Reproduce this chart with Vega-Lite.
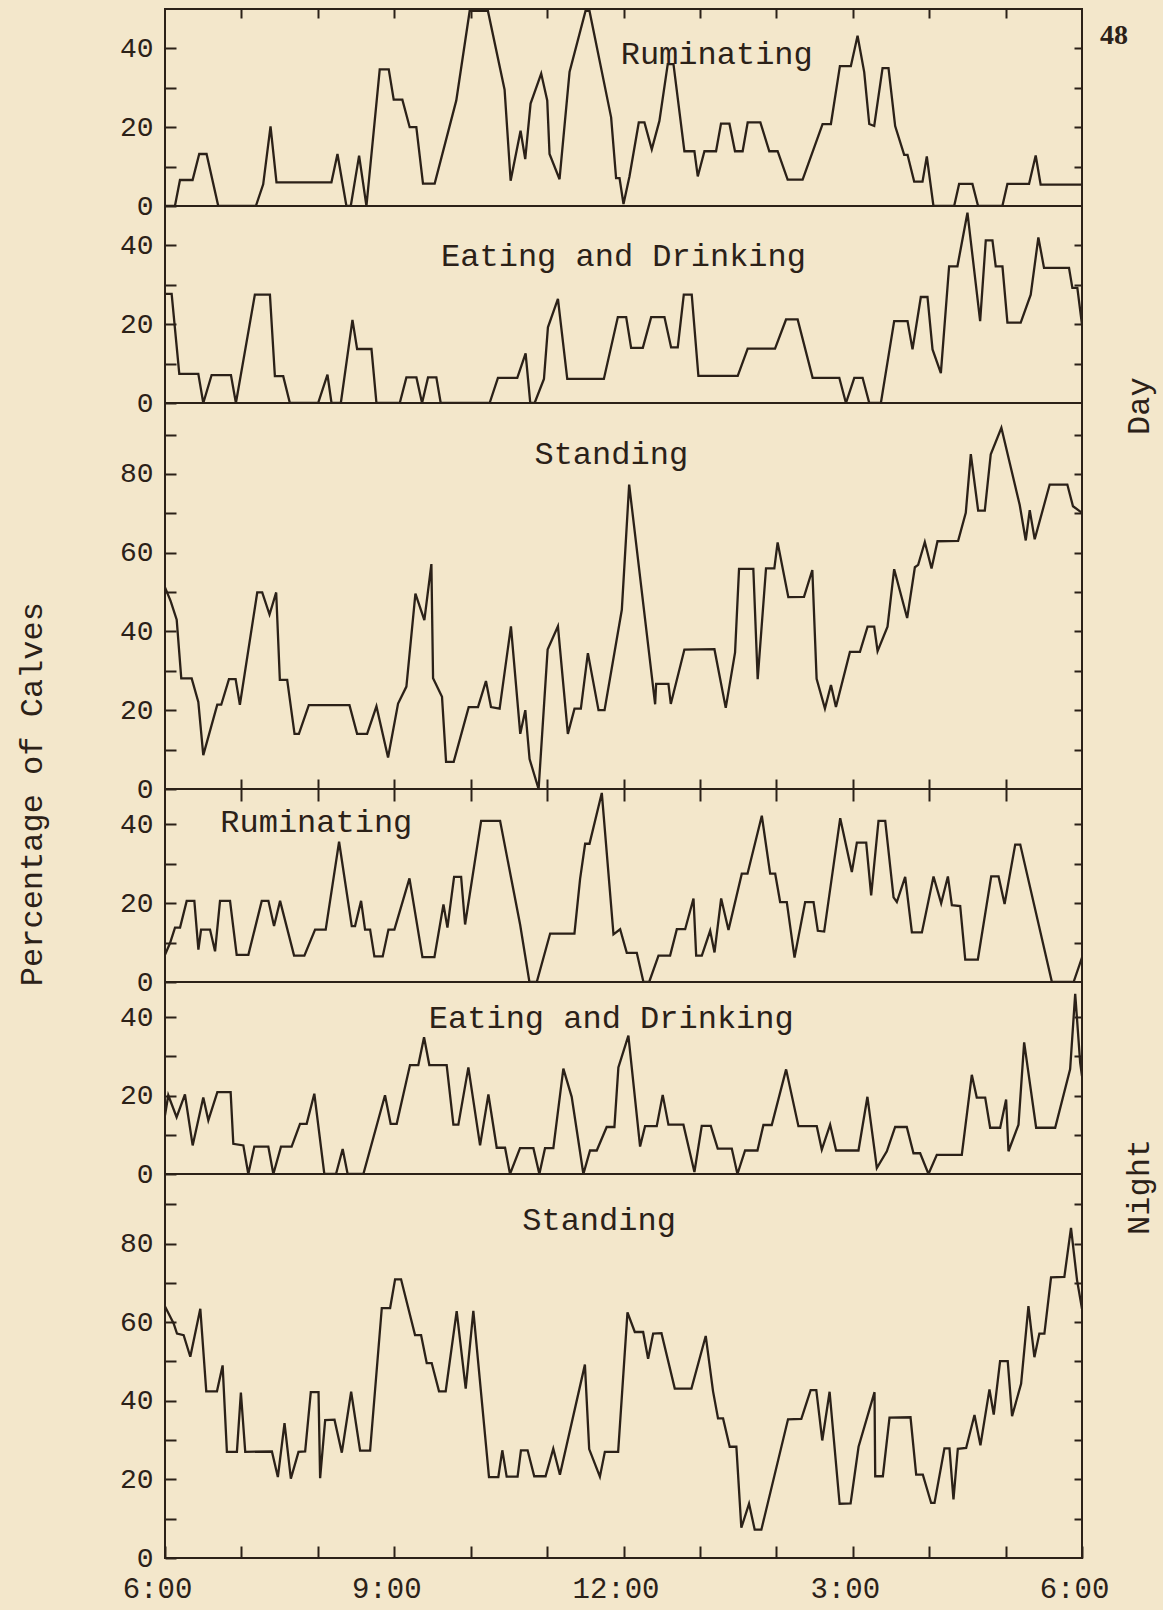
{
  "$schema": "https://vega.github.io/schema/vega-lite/v6.json",
  "background": "#f3e7cb",
  "padding": {"left": 15, "top": 7, "right": 12, "bottom": 8},
  "spacing": 0,
  "bounds": "flush",
  "config": {
    "view": {"stroke": "#2b2118", "strokeWidth": 2},
    "axis": {"grid": false, "domain": false, "tickColor": "#2b2118", "tickWidth": 2, "labelColor": "#2b2118", "labelFont": "Liberation Mono", "labelFontSize": 28, "labelOverlap": false, "labelFlush": false},
    "text": {"font": "Liberation Mono", "fontSize": 32, "color": "#2b2118"}
  },
  "datasets": {
    "r1": [{"t":0,"v":0},{"t":0.13,"v":0},{"t":0.196,"v":6.6},{"t":0.361,"v":6.6},{"t":0.448,"v":13.2},{"t":0.544,"v":13.2},{"t":0.697,"v":0},{"t":1.189,"v":0},{"t":1.285,"v":5.5},{"t":1.381,"v":20.2},{"t":1.459,"v":6},{"t":2.178,"v":6},{"t":2.257,"v":13.2},{"t":2.374,"v":0},{"t":2.431,"v":0},{"t":2.54,"v":12.8},{"t":2.636,"v":0},{"t":2.81,"v":34.7},{"t":2.928,"v":34.7},{"t":2.993,"v":27},{"t":3.106,"v":27},{"t":3.202,"v":20},{"t":3.289,"v":20},{"t":3.376,"v":5.7},{"t":3.529,"v":5.7},{"t":3.812,"v":26.8},{"t":3.987,"v":49.5},{"t":4.226,"v":49.5},{"t":4.444,"v":29.5},{"t":4.523,"v":6.4},{"t":4.653,"v":19.1},{"t":4.714,"v":11.9},{"t":4.784,"v":26},{"t":4.923,"v":33.6},{"t":5.002,"v":26.8},{"t":5.032,"v":13.2},{"t":5.163,"v":6.8},{"t":5.294,"v":34},{"t":5.503,"v":49.5},{"t":5.555,"v":49.5},{"t":5.838,"v":22.5},{"t":5.903,"v":7.1},{"t":5.948,"v":7.1},{"t":6,"v":0.5},{"t":6.078,"v":7.5},{"t":6.2,"v":21.2},{"t":6.274,"v":21.2},{"t":6.37,"v":14.4},{"t":6.47,"v":21.6},{"t":6.579,"v":36},{"t":6.654,"v":36},{"t":6.797,"v":13.9},{"t":6.928,"v":13.9},{"t":6.972,"v":7.5},{"t":7.059,"v":13.9},{"t":7.211,"v":13.9},{"t":7.276,"v":20.9},{"t":7.386,"v":20.9},{"t":7.459,"v":13.9},{"t":7.559,"v":13.9},{"t":7.625,"v":21.2},{"t":7.791,"v":21.2},{"t":7.908,"v":13.9},{"t":8.017,"v":13.9},{"t":8.148,"v":6.7},{"t":8.344,"v":6.7},{"t":8.605,"v":20.8},{"t":8.714,"v":20.8},{"t":8.832,"v":35.5},{"t":8.975,"v":35.5},{"t":9.063,"v":43.2},{"t":9.15,"v":34},{"t":9.216,"v":20.8},{"t":9.281,"v":20.3},{"t":9.39,"v":35},{"t":9.468,"v":35},{"t":9.555,"v":20.3},{"t":9.673,"v":13},{"t":9.717,"v":13},{"t":9.804,"v":6.2},{"t":9.913,"v":6.2},{"t":9.969,"v":12.6},{"t":10.056,"v":0},{"t":10.327,"v":0},{"t":10.392,"v":5.6},{"t":10.566,"v":5.6},{"t":10.64,"v":0},{"t":10.958,"v":0},{"t":11.024,"v":5.6},{"t":11.307,"v":5.6},{"t":11.394,"v":12.8},{"t":11.459,"v":5.4},{"t":12,"v":5.4}],
    "e1": [{"t":0,"v":27.7},{"t":0.087,"v":27.7},{"t":0.187,"v":7.4},{"t":0.436,"v":7.4},{"t":0.501,"v":0},{"t":0.61,"v":7.1},{"t":0.863,"v":7.1},{"t":0.928,"v":0},{"t":1.176,"v":27.5},{"t":1.373,"v":27.5},{"t":1.438,"v":6.8},{"t":1.547,"v":6.8},{"t":1.634,"v":0},{"t":2.004,"v":0},{"t":2.126,"v":7.2},{"t":2.179,"v":0},{"t":2.301,"v":0},{"t":2.453,"v":21.1},{"t":2.514,"v":13.7},{"t":2.702,"v":13.7},{"t":2.767,"v":0},{"t":3.072,"v":0},{"t":3.159,"v":6.5},{"t":3.29,"v":6.5},{"t":3.364,"v":0},{"t":3.442,"v":6.5},{"t":3.551,"v":6.5},{"t":3.608,"v":0},{"t":4.248,"v":0},{"t":4.357,"v":6.4},{"t":4.61,"v":6.4},{"t":4.719,"v":12.6},{"t":4.78,"v":0},{"t":4.837,"v":0},{"t":4.959,"v":6.1},{"t":5.011,"v":19.2},{"t":5.142,"v":26.4},{"t":5.264,"v":6.1},{"t":5.743,"v":6.1},{"t":5.926,"v":21.8},{"t":6.035,"v":21.8},{"t":6.1,"v":14},{"t":6.253,"v":14},{"t":6.362,"v":21.8},{"t":6.536,"v":21.8},{"t":6.623,"v":14.1},{"t":6.71,"v":14.1},{"t":6.789,"v":27.5},{"t":6.893,"v":27.5},{"t":6.98,"v":6.9},{"t":7.495,"v":6.9},{"t":7.625,"v":13.8},{"t":7.983,"v":13.8},{"t":8.127,"v":21.2},{"t":8.279,"v":21.2},{"t":8.475,"v":6.4},{"t":8.824,"v":6.4},{"t":8.911,"v":0},{"t":9.02,"v":6.4},{"t":9.129,"v":6.4},{"t":9.216,"v":0},{"t":9.368,"v":0},{"t":9.542,"v":20.8},{"t":9.717,"v":20.8},{"t":9.782,"v":13.6},{"t":9.891,"v":26.9},{"t":9.978,"v":26.9},{"t":10.044,"v":13.6},{"t":10.153,"v":7.6},{"t":10.261,"v":34.7},{"t":10.37,"v":34.7},{"t":10.501,"v":48.3},{"t":10.667,"v":20.8},{"t":10.741,"v":41.3},{"t":10.828,"v":41.3},{"t":10.871,"v":34.7},{"t":10.959,"v":34.7},{"t":11.024,"v":20.4},{"t":11.198,"v":20.4},{"t":11.329,"v":27.5},{"t":11.429,"v":42},{"t":11.503,"v":34.3},{"t":11.83,"v":34.3},{"t":11.874,"v":29.2},{"t":11.939,"v":29.2},{"t":12,"v":19.9}],
    "s1": [{"t":0,"v":51.2},{"t":0.074,"v":47.7},{"t":0.153,"v":43},{"t":0.213,"v":28.1},{"t":0.349,"v":28.1},{"t":0.436,"v":22.1},{"t":0.501,"v":8.6},{"t":0.684,"v":21.4},{"t":0.736,"v":21.4},{"t":0.837,"v":27.9},{"t":0.924,"v":27.9},{"t":0.98,"v":21.4},{"t":1.207,"v":49.9},{"t":1.272,"v":49.9},{"t":1.368,"v":44.3},{"t":1.455,"v":49.9},{"t":1.503,"v":27.7},{"t":1.599,"v":27.7},{"t":1.695,"v":14},{"t":1.752,"v":14},{"t":1.882,"v":21.3},{"t":2.414,"v":21.3},{"t":2.514,"v":14},{"t":2.645,"v":14},{"t":2.767,"v":21},{"t":2.919,"v":8},{"t":3.05,"v":21.7},{"t":3.159,"v":26},{"t":3.277,"v":49.6},{"t":3.394,"v":42.9},{"t":3.486,"v":57.1},{"t":3.508,"v":28.1},{"t":3.625,"v":23.4},{"t":3.678,"v":6.9},{"t":3.778,"v":6.9},{"t":3.974,"v":20.8},{"t":4.096,"v":20.8},{"t":4.2,"v":27.4},{"t":4.266,"v":20.8},{"t":4.379,"v":20.4},{"t":4.527,"v":41.3},{"t":4.649,"v":14},{"t":4.715,"v":20},{"t":4.771,"v":7.6},{"t":4.889,"v":0},{"t":5.007,"v":35.4},{"t":5.142,"v":41.3},{"t":5.272,"v":14},{"t":5.359,"v":20.4},{"t":5.442,"v":20.4},{"t":5.534,"v":34.5},{"t":5.673,"v":20},{"t":5.752,"v":20},{"t":5.978,"v":45.5},{"t":6.074,"v":77.3},{"t":6.414,"v":21.5},{"t":6.427,"v":26.7},{"t":6.588,"v":26.7},{"t":6.619,"v":21.6},{"t":6.797,"v":35.4},{"t":7.19,"v":35.5},{"t":7.338,"v":20.6},{"t":7.46,"v":34.7},{"t":7.512,"v":55.9},{"t":7.699,"v":55.9},{"t":7.756,"v":27.9},{"t":7.865,"v":56},{"t":7.974,"v":56},{"t":8.017,"v":62.6},{"t":8.157,"v":48.7},{"t":8.362,"v":48.8},{"t":8.471,"v":55.6},{"t":8.527,"v":28},{"t":8.636,"v":20.4},{"t":8.715,"v":26.4},{"t":8.78,"v":20.8},{"t":8.963,"v":34.8},{"t":9.094,"v":34.8},{"t":9.194,"v":41.2},{"t":9.281,"v":41.2},{"t":9.325,"v":35},{"t":9.455,"v":41.2},{"t":9.542,"v":55.8},{"t":9.712,"v":43.4},{"t":9.813,"v":56.3},{"t":9.856,"v":56.9},{"t":9.943,"v":62.7},{"t":10.031,"v":56},{"t":10.109,"v":62.9},{"t":10.379,"v":63},{"t":10.479,"v":70.1},{"t":10.545,"v":85},{"t":10.641,"v":70.7},{"t":10.728,"v":70.7},{"t":10.806,"v":85},{"t":10.945,"v":91.7},{"t":11.185,"v":72.1},{"t":11.264,"v":63.1},{"t":11.316,"v":70.8},{"t":11.381,"v":63.4},{"t":11.577,"v":77.3},{"t":11.808,"v":77.3},{"t":11.882,"v":71.8},{"t":12,"v":70.1}],
    "r2": [{"t":0,"v":6.9},{"t":0.066,"v":9.9},{"t":0.131,"v":13.8},{"t":0.197,"v":13.8},{"t":0.284,"v":20.6},{"t":0.384,"v":20.6},{"t":0.437,"v":8.2},{"t":0.472,"v":13.3},{"t":0.589,"v":13.3},{"t":0.655,"v":7.8},{"t":0.72,"v":20.6},{"t":0.851,"v":20.6},{"t":0.938,"v":6.9},{"t":1.091,"v":6.9},{"t":1.266,"v":20.6},{"t":1.353,"v":20.6},{"t":1.427,"v":14.2},{"t":1.506,"v":20.6},{"t":1.689,"v":6.7},{"t":1.824,"v":6.7},{"t":1.964,"v":13.3},{"t":2.103,"v":13.3},{"t":2.278,"v":35.6},{"t":2.444,"v":14.2},{"t":2.487,"v":14.2},{"t":2.566,"v":20.6},{"t":2.618,"v":13.3},{"t":2.684,"v":13.3},{"t":2.74,"v":6.5},{"t":2.849,"v":6.5},{"t":2.924,"v":13.3},{"t":3.002,"v":13.3},{"t":3.199,"v":26.3},{"t":3.369,"v":6.3},{"t":3.526,"v":6.3},{"t":3.644,"v":19.7},{"t":3.696,"v":13.8},{"t":3.783,"v":26.7},{"t":3.875,"v":26.7},{"t":3.927,"v":14.6},{"t":4.137,"v":40.9},{"t":4.385,"v":40.9},{"t":4.647,"v":14.6},{"t":4.769,"v":0},{"t":4.865,"v":0},{"t":5.04,"v":12.3},{"t":5.358,"v":12.3},{"t":5.432,"v":26.2},{"t":5.498,"v":35.1},{"t":5.555,"v":35.1},{"t":5.716,"v":48},{"t":5.869,"v":12.1},{"t":5.956,"v":13.4},{"t":6.043,"v":7.4},{"t":6.174,"v":7.4},{"t":6.261,"v":0},{"t":6.336,"v":0},{"t":6.458,"v":6.7},{"t":6.61,"v":6.7},{"t":6.698,"v":13.4},{"t":6.807,"v":13.4},{"t":6.916,"v":21.2},{"t":6.951,"v":6.7},{"t":7.025,"v":6.7},{"t":7.134,"v":13},{"t":7.191,"v":7.5},{"t":7.278,"v":21.2},{"t":7.374,"v":13.2},{"t":7.548,"v":27.5},{"t":7.623,"v":27.5},{"t":7.81,"v":42.2},{"t":7.919,"v":27.5},{"t":7.985,"v":27.5},{"t":8.05,"v":20.3},{"t":8.137,"v":20.3},{"t":8.238,"v":6.2},{"t":8.377,"v":20.3},{"t":8.487,"v":20.3},{"t":8.543,"v":13},{"t":8.626,"v":12.8},{"t":8.836,"v":41.6},{"t":8.988,"v":27.9},{"t":9.054,"v":35.4},{"t":9.176,"v":35.4},{"t":9.241,"v":22},{"t":9.337,"v":40.9},{"t":9.425,"v":40.9},{"t":9.534,"v":21.5},{"t":9.577,"v":20.3},{"t":9.686,"v":26.7},{"t":9.774,"v":12.6},{"t":9.905,"v":12.6},{"t":10.057,"v":26.8},{"t":10.157,"v":20},{"t":10.245,"v":26.8},{"t":10.297,"v":19.5},{"t":10.406,"v":19.3},{"t":10.472,"v":5.7},{"t":10.637,"v":5.7},{"t":10.812,"v":26.8},{"t":10.908,"v":26.8},{"t":10.987,"v":19.8},{"t":11.126,"v":34.9},{"t":11.192,"v":34.9},{"t":11.606,"v":0},{"t":11.89,"v":0},{"t":12,"v":6.2}],
    "e2": [{"t":0,"v":15},{"t":0.043,"v":20.1},{"t":0.152,"v":14.5},{"t":0.261,"v":20.3},{"t":0.362,"v":7.3},{"t":0.501,"v":19.5},{"t":0.567,"v":13.7},{"t":0.685,"v":20.9},{"t":0.859,"v":20.9},{"t":0.894,"v":7.7},{"t":1.025,"v":7.3},{"t":1.09,"v":0},{"t":1.169,"v":7},{"t":1.352,"v":7},{"t":1.418,"v":0},{"t":1.518,"v":7},{"t":1.657,"v":7},{"t":1.767,"v":12.8},{"t":1.854,"v":12.8},{"t":1.954,"v":20.5},{"t":2.085,"v":0},{"t":2.238,"v":0},{"t":2.325,"v":6.4},{"t":2.39,"v":0},{"t":2.596,"v":0},{"t":2.879,"v":20.1},{"t":2.953,"v":12.8},{"t":3.032,"v":12.8},{"t":3.206,"v":27.8},{"t":3.315,"v":27.8},{"t":3.39,"v":34.9},{"t":3.459,"v":27.8},{"t":3.686,"v":27.8},{"t":3.774,"v":12.6},{"t":3.839,"v":12.6},{"t":3.97,"v":27.2},{"t":4.123,"v":7.3},{"t":4.232,"v":20.3},{"t":4.341,"v":6.7},{"t":4.45,"v":6.7},{"t":4.515,"v":0},{"t":4.646,"v":6.6},{"t":4.821,"v":6.6},{"t":4.899,"v":0},{"t":4.973,"v":6.6},{"t":5.082,"v":6.6},{"t":5.213,"v":26.9},{"t":5.322,"v":19.7},{"t":5.475,"v":0},{"t":5.562,"v":6},{"t":5.65,"v":6},{"t":5.78,"v":12},{"t":5.881,"v":12},{"t":5.933,"v":27.2},{"t":6.064,"v":35.3},{"t":6.217,"v":7},{"t":6.282,"v":12.2},{"t":6.435,"v":12.2},{"t":6.513,"v":20.2},{"t":6.588,"v":12.6},{"t":6.784,"v":12.6},{"t":6.928,"v":0.5},{"t":7.024,"v":12.3},{"t":7.142,"v":12.3},{"t":7.233,"v":6.5},{"t":7.417,"v":6.5},{"t":7.491,"v":0},{"t":7.591,"v":6},{"t":7.753,"v":6},{"t":7.831,"v":12.5},{"t":7.94,"v":12.5},{"t":8.128,"v":26.7},{"t":8.289,"v":12.2},{"t":8.529,"v":12.2},{"t":8.595,"v":6.2},{"t":8.704,"v":12.6},{"t":8.782,"v":6},{"t":9.075,"v":6},{"t":9.192,"v":19.7},{"t":9.293,"v":4.9},{"t":9.315,"v":1.5},{"t":9.446,"v":5.8},{"t":9.555,"v":12},{"t":9.707,"v":12},{"t":9.795,"v":5.3},{"t":9.882,"v":5.3},{"t":9.991,"v":0},{"t":10.1,"v":4.9},{"t":10.427,"v":4.9},{"t":10.558,"v":25.3},{"t":10.623,"v":19.5},{"t":10.733,"v":19.5},{"t":10.798,"v":11.8},{"t":10.929,"v":11.8},{"t":11.007,"v":19},{"t":11.038,"v":5.8},{"t":11.169,"v":12.6},{"t":11.243,"v":33.6},{"t":11.4,"v":11.8},{"t":11.649,"v":11.8},{"t":11.845,"v":26.8},{"t":11.911,"v":46},{"t":11.976,"v":28.4},{"t":12,"v":25}],
    "s2": [{"t":0,"v":64},{"t":0.113,"v":59.7},{"t":0.157,"v":57.1},{"t":0.244,"v":56.7},{"t":0.331,"v":51.2},{"t":0.462,"v":63.4},{"t":0.54,"v":42.4},{"t":0.68,"v":42.4},{"t":0.754,"v":49},{"t":0.81,"v":27},{"t":0.941,"v":27},{"t":0.993,"v":42.1},{"t":1.05,"v":27},{"t":1.399,"v":27.1},{"t":1.477,"v":20.6},{"t":1.564,"v":34.3},{"t":1.647,"v":20.2},{"t":1.747,"v":27},{"t":1.834,"v":27.1},{"t":1.908,"v":42.2},{"t":2.009,"v":42.2},{"t":2.03,"v":20.3},{"t":2.096,"v":35.1},{"t":2.218,"v":35.2},{"t":2.314,"v":26.8},{"t":2.436,"v":42.3},{"t":2.553,"v":27.3},{"t":2.684,"v":27.3},{"t":2.837,"v":63.6},{"t":2.946,"v":63.6},{"t":3.011,"v":70.9},{"t":3.089,"v":70.9},{"t":3.272,"v":56.7},{"t":3.351,"v":56.7},{"t":3.425,"v":49.6},{"t":3.49,"v":49.6},{"t":3.586,"v":42.4},{"t":3.673,"v":42.4},{"t":3.817,"v":62.8},{"t":3.935,"v":43.1},{"t":4.035,"v":62.9},{"t":4.24,"v":20.6},{"t":4.362,"v":20.6},{"t":4.414,"v":27.4},{"t":4.471,"v":20.7},{"t":4.614,"v":20.7},{"t":4.658,"v":27.4},{"t":4.745,"v":27.4},{"t":4.832,"v":20.8},{"t":4.98,"v":20.8},{"t":5.081,"v":27.8},{"t":5.168,"v":21.2},{"t":5.495,"v":49.2},{"t":5.551,"v":27.7},{"t":5.691,"v":20.7},{"t":5.756,"v":27},{"t":5.93,"v":27},{"t":6.052,"v":62.5},{"t":6.148,"v":57.5},{"t":6.257,"v":57.5},{"t":6.322,"v":50.7},{"t":6.388,"v":57.1},{"t":6.497,"v":57.2},{"t":6.671,"v":43.1},{"t":6.889,"v":43.1},{"t":7.076,"v":56.5},{"t":7.172,"v":42.4},{"t":7.237,"v":35.5},{"t":7.303,"v":35.5},{"t":7.39,"v":28.3},{"t":7.477,"v":28.3},{"t":7.542,"v":7.7},{"t":7.643,"v":13.8},{"t":7.717,"v":7.2},{"t":7.804,"v":7.2},{"t":8.153,"v":35.3},{"t":8.327,"v":35.4},{"t":8.449,"v":42.7},{"t":8.523,"v":42.7},{"t":8.601,"v":29.9},{"t":8.697,"v":42.3},{"t":8.828,"v":13.8},{"t":8.972,"v":13.9},{"t":9.076,"v":28.3},{"t":9.285,"v":42.2},{"t":9.294,"v":20.8},{"t":9.394,"v":20.8},{"t":9.481,"v":35.7},{"t":9.756,"v":35.8},{"t":9.83,"v":21.2},{"t":9.917,"v":21.2},{"t":10.026,"v":14},{"t":10.07,"v":14},{"t":10.2,"v":27.9},{"t":10.266,"v":27.9},{"t":10.318,"v":14.9},{"t":10.375,"v":27.8},{"t":10.484,"v":28},{"t":10.593,"v":36.4},{"t":10.671,"v":28.7},{"t":10.789,"v":42.9},{"t":10.845,"v":36.5},{"t":10.928,"v":50.1},{"t":11.028,"v":50.1},{"t":11.085,"v":36.1},{"t":11.203,"v":44.3},{"t":11.299,"v":64.1},{"t":11.377,"v":51.1},{"t":11.442,"v":57.1},{"t":11.508,"v":57.1},{"t":11.595,"v":71.4},{"t":11.769,"v":71.5},{"t":11.856,"v":84},{"t":11.935,"v":70.7},{"t":12,"v":63.4}]
  },
  "vconcat": [
    {
      "width": 917, "height": 197,
      "data": {"name": "r1"},
      "layer": [
        {"mark": {"type": "line", "color": "#2b2118", "strokeWidth": 2.3, "clip": true},
         "encoding": {
           "x": {"field": "t", "type": "quantitative", "scale": {"domain": [0, 12], "nice": false}, "axis": {"orient": "top", "values": [1,2,3,4,5,6,7,8,9,10,11], "labels": false, "tickSize": -9, "title": null, "minExtent": 0, "maxExtent": 0}},
           "y": {"field": "v", "type": "quantitative", "scale": {"domain": [0, 50], "nice": false}, "axis": {"orient": "left", "values": [0,10,20,30,40], "tickSize": -11, "labelPadding": 23, "labelExpr": "datum.value % 20 === 0 ? datum.label : ''", "title": null}},
           "order": {"value": null}}},
        {"mark": {"type": "rule", "strokeOpacity": 0},
         "encoding": {
           "y": {"field": "v", "type": "quantitative", "axis": {"orient": "right", "values": [10,20,30,40], "tickSize": -8, "labels": false, "title": null, "minExtent": 0, "maxExtent": 0}}}},
        {"data": {"values": [{}]},
         "mark": {"type": "text", "align": "center", "baseline": "alphabetic"},
         "encoding": {"x": {"datum": 7.22, "axis": {"orient": "top", "values": [1,2,3,4,5,6,7,8,9,10,11], "labels": false, "tickSize": -9, "title": null, "minExtent": 0, "maxExtent": 0}}, "y": {"datum": 36, "axis": null}, "text": {"value": "Ruminating"}}},
        {"data": {"values": [{}]},
         "mark": {"type": "text", "align": "center", "baseline": "middle", "font": "Liberation Serif", "fontWeight": "bold", "fontSize": 28},
         "encoding": {"x": {"datum": 12.42, "axis": {"orient": "top", "values": [1,2,3,4,5,6,7,8,9,10,11], "labels": false, "tickSize": -9, "title": null, "minExtent": 0, "maxExtent": 0}}, "y": {"datum": 43.1, "axis": null}, "text": {"value": "48"}}}
      ],
      "resolve": {"axis": {"y": "independent"}}
    },
    {
      "width": 917, "height": 197,
      "data": {"name": "e1"},
      "layer": [
        {"mark": {"type": "line", "color": "#2b2118", "strokeWidth": 2.3, "clip": true},
         "encoding": {
           "x": {"field": "t", "type": "quantitative", "scale": {"domain": [0, 12], "nice": false}, "axis": null},
           "y": {"field": "v", "type": "quantitative", "scale": {"domain": [0, 50], "nice": false}, "axis": {"orient": "left", "values": [0,10,20,30,40], "tickSize": -11, "labelPadding": 23, "labelExpr": "datum.value % 20 === 0 ? datum.label : ''", "title": null}},
           "order": {"value": null}}},
        {"mark": {"type": "rule", "strokeOpacity": 0},
         "encoding": {
           "y": {"field": "v", "type": "quantitative", "axis": {"orient": "right", "values": [10,20,30,40], "tickSize": -8, "labels": false, "title": null, "minExtent": 0, "maxExtent": 0}}}},
        {"data": {"values": [{}]},
         "mark": {"type": "text", "align": "center", "baseline": "alphabetic"},
         "encoding": {"x": {"datum": 6.0, "axis": null}, "y": {"datum": 34.8, "axis": null}, "text": {"value": "Eating and Drinking"}}},
        {"data": {"values": [{}]},
         "mark": {"type": "text", "align": "center", "baseline": "middle", "angle": 270},
         "encoding": {"x": {"datum": 12.74, "axis": null}, "y": {"datum": -0.8, "axis": null}, "text": {"value": "Day"}}}
      ],
      "resolve": {"axis": {"y": "independent"}}
    },
    {
      "width": 917, "height": 386,
      "data": {"name": "s1"},
      "layer": [
        {"mark": {"type": "line", "color": "#2b2118", "strokeWidth": 2.3, "clip": true},
         "encoding": {
           "x": {"field": "t", "type": "quantitative", "scale": {"domain": [0, 12], "nice": false}, "axis": {"orient": "bottom", "values": [1,2,3,4,5,6,7,8,9,10,11], "labels": false, "tickSize": -10, "title": null, "minExtent": 0, "maxExtent": 0}},
           "y": {"field": "v", "type": "quantitative", "scale": {"domain": [0, 98], "nice": false}, "axis": {"orient": "left", "values": [0,10,20,30,40,50,60,70,80,90], "tickSize": -11, "labelPadding": 23, "labelExpr": "datum.value % 20 === 0 ? datum.label : ''", "title": null}},
           "order": {"value": null}}},
        {"mark": {"type": "rule", "strokeOpacity": 0},
         "encoding": {
           "y": {"field": "v", "type": "quantitative", "axis": {"orient": "right", "values": [10,20,30,40,50,60,70,80,90], "tickSize": -8, "labels": false, "title": null, "minExtent": 0, "maxExtent": 0}}}},
        {"data": {"values": [{}]},
         "mark": {"type": "text", "align": "center", "baseline": "alphabetic"},
         "encoding": {"x": {"datum": 5.84, "axis": {"orient": "bottom", "values": [1,2,3,4,5,6,7,8,9,10,11], "labels": false, "tickSize": -10, "title": null, "minExtent": 0, "maxExtent": 0}}, "y": {"datum": 82.5, "axis": null}, "text": {"value": "Standing"}}},
        {"data": {"values": [{}]},
         "mark": {"type": "text", "align": "center", "baseline": "middle", "angle": 270},
         "encoding": {"x": {"datum": -1.74, "axis": {"orient": "bottom", "values": [1,2,3,4,5,6,7,8,9,10,11], "labels": false, "tickSize": -10, "title": null, "minExtent": 0, "maxExtent": 0}}, "y": {"datum": -1.3, "axis": null}, "text": {"value": "Percentage of Calves"}}}
      ],
      "resolve": {"axis": {"y": "independent"}}
    },
    {
      "width": 917, "height": 193,
      "data": {"name": "r2"},
      "layer": [
        {"mark": {"type": "line", "color": "#2b2118", "strokeWidth": 2.3, "clip": true},
         "encoding": {
           "x": {"field": "t", "type": "quantitative", "scale": {"domain": [0, 12], "nice": false}, "axis": {"orient": "top", "values": [1,2,3,4,5,6,7,8,9,10,11], "labels": false, "tickSize": -12, "title": null, "minExtent": 0, "maxExtent": 0}},
           "y": {"field": "v", "type": "quantitative", "scale": {"domain": [0, 49], "nice": false}, "axis": {"orient": "left", "values": [0,10,20,30,40], "tickSize": -11, "labelPadding": 23, "labelExpr": "datum.value % 20 === 0 ? datum.label : ''", "title": null}},
           "order": {"value": null}}},
        {"mark": {"type": "rule", "strokeOpacity": 0},
         "encoding": {
           "y": {"field": "v", "type": "quantitative", "axis": {"orient": "right", "values": [10,20,30,40], "tickSize": -8, "labels": false, "title": null, "minExtent": 0, "maxExtent": 0}}}},
        {"data": {"values": [{}]},
         "mark": {"type": "text", "align": "center", "baseline": "alphabetic"},
         "encoding": {"x": {"datum": 1.98, "axis": {"orient": "top", "values": [1,2,3,4,5,6,7,8,9,10,11], "labels": false, "tickSize": -12, "title": null, "minExtent": 0, "maxExtent": 0}}, "y": {"datum": 38.1, "axis": null}, "text": {"value": "Ruminating"}}}
      ],
      "resolve": {"axis": {"y": "independent"}}
    },
    {
      "width": 917, "height": 192,
      "data": {"name": "e2"},
      "layer": [
        {"mark": {"type": "line", "color": "#2b2118", "strokeWidth": 2.3, "clip": true},
         "encoding": {
           "x": {"field": "t", "type": "quantitative", "scale": {"domain": [0, 12], "nice": false}, "axis": null},
           "y": {"field": "v", "type": "quantitative", "scale": {"domain": [0, 49], "nice": false}, "axis": {"orient": "left", "values": [0,10,20,30,40], "tickSize": -11, "labelPadding": 23, "labelExpr": "datum.value % 20 === 0 ? datum.label : ''", "title": null}},
           "order": {"value": null}}},
        {"mark": {"type": "rule", "strokeOpacity": 0},
         "encoding": {
           "y": {"field": "v", "type": "quantitative", "axis": {"orient": "right", "values": [10,20,30,40], "tickSize": -8, "labels": false, "title": null, "minExtent": 0, "maxExtent": 0}}}},
        {"data": {"values": [{}]},
         "mark": {"type": "text", "align": "center", "baseline": "alphabetic"},
         "encoding": {"x": {"datum": 5.84, "axis": null}, "y": {"datum": 37.3, "axis": null}, "text": {"value": "Eating and Drinking"}}}
      ],
      "resolve": {"axis": {"y": "independent"}}
    },
    {
      "width": 917, "height": 384,
      "data": {"name": "s2"},
      "layer": [
        {"mark": {"type": "line", "color": "#2b2118", "strokeWidth": 2.3, "clip": true},
         "encoding": {
           "x": {"field": "t", "type": "quantitative", "scale": {"domain": [0, 12], "nice": false}, "axis": {"orient": "bottom", "values": [0,1,2,3,4,5,6,7,8,9,10,11,12], "tickSize": -12, "labelPadding": 28, "labelOffset": -8, "labelFontSize": 29, "labelExpr": "datum.value === 0 || datum.value === 12 ? '6:00' : datum.value === 3 ? '9:00' : datum.value === 6 ? '12:00' : datum.value === 9 ? '3:00' : ''", "title": null}},
           "y": {"field": "v", "type": "quantitative", "scale": {"domain": [0, 97.7], "nice": false}, "axis": {"orient": "left", "values": [0,10,20,30,40,50,60,70,80,90], "tickSize": -11, "labelPadding": 23, "labelExpr": "datum.value % 20 === 0 ? datum.label : ''", "title": null}},
           "order": {"value": null}}},
        {"mark": {"type": "rule", "strokeOpacity": 0},
         "encoding": {
           "y": {"field": "v", "type": "quantitative", "axis": {"orient": "right", "values": [10,20,30,40,50,60,70,80,90], "tickSize": -8, "labels": false, "title": null, "minExtent": 0, "maxExtent": 0}}}},
        {"data": {"values": [{}]},
         "mark": {"type": "text", "align": "center", "baseline": "alphabetic"},
         "encoding": {"x": {"datum": 5.68, "axis": {"orient": "bottom", "values": [0,1,2,3,4,5,6,7,8,9,10,11,12], "tickSize": -12, "labelPadding": 28, "labelOffset": -8, "labelFontSize": 29, "labelExpr": "datum.value === 0 || datum.value === 12 ? '6:00' : datum.value === 3 ? '9:00' : datum.value === 6 ? '12:00' : datum.value === 9 ? '3:00' : ''", "title": null}}, "y": {"datum": 83.5, "axis": null}, "text": {"value": "Standing"}}},
        {"data": {"values": [{}]},
         "mark": {"type": "text", "align": "center", "baseline": "middle", "angle": 270},
         "encoding": {"x": {"datum": 12.74, "axis": {"orient": "bottom", "values": [0,1,2,3,4,5,6,7,8,9,10,11,12], "tickSize": -12, "labelPadding": 28, "labelOffset": -8, "labelFontSize": 29, "labelExpr": "datum.value === 0 || datum.value === 12 ? '6:00' : datum.value === 3 ? '9:00' : datum.value === 6 ? '12:00' : datum.value === 9 ? '3:00' : ''", "title": null}}, "y": {"datum": 94.4, "axis": null}, "text": {"value": "Night"}}}
      ],
      "resolve": {"axis": {"y": "independent"}}
    }
  ]
}
